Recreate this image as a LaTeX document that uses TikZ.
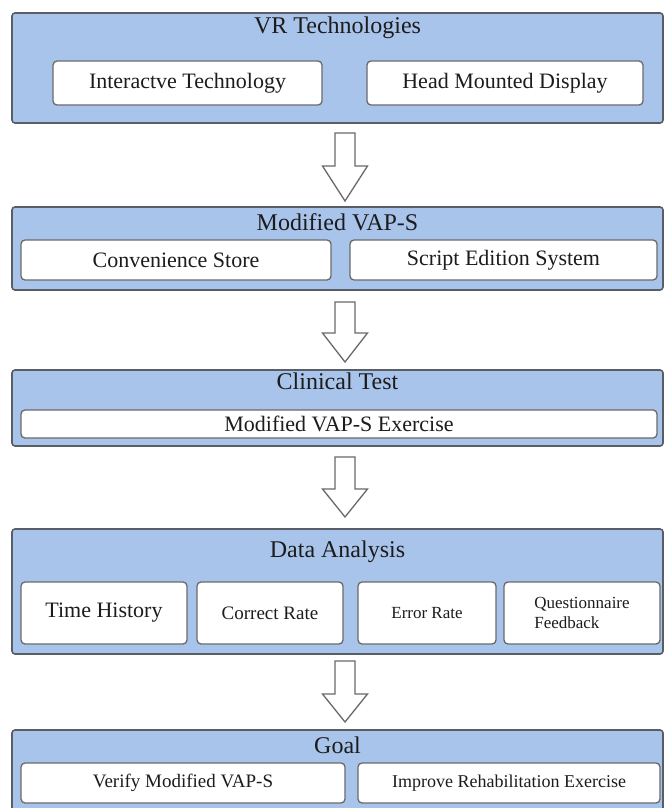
\documentclass[tikz,border=0pt]{standalone}
\usepackage{fontspec}
\setmainfont{Liberation Serif}
\definecolor{outerblue}{RGB}{169,196,235}
\definecolor{edgegray}{RGB}{88,94,100}
\definecolor{innergray}{RGB}{105,105,105}
\definecolor{txt}{RGB}{28,28,28}
\tikzset{
  outerbox/.style={draw=edgegray, fill=outerblue, line width=1.6pt, rounded corners=3pt, inner sep=0pt, outer sep=0pt},
  innerbox/.style={draw=innergray, fill=white, line width=1.3pt, rounded corners=4pt, inner sep=0pt, outer sep=0pt, text=txt, font=\fontsize{22}{24}\selectfont},
  titletext/.style={text=txt, font=\fontsize{24}{26}\selectfont, inner sep=0pt},
  blockarrow/.style={draw=innergray, fill=white, line width=1.3pt, line join=miter},
}
\newcommand\pbox[7]{\node[#6, minimum width={(#3-#2)*1pt}, minimum height={(#5-#4)*1pt}] (#1) at ({(#2+#3)/2},{(#4+#5)/2}) {#7};}
\newcommand\downarr[4]{\draw[blockarrow] ({#1-10},#2) -- ({#1+10},#2) -- ({#1+10},#3) -- ({#1+22.5},#3) -- (#1,#4) -- ({#1-22.5},#3) -- ({#1-10},#3) -- cycle;}
\begin{document}
\begin{tikzpicture}[x=1pt,y=-1pt]
\useasboundingbox (0,0) rectangle (667,808);
\clip (0,0) rectangle (667,808);
% Box 1
\pbox{b1}{12}{663}{13}{123}{outerbox}{}
\node[titletext] (t1) at (337.5,28) {VR Technologies};
\pbox{i11}{53}{322}{61}{105}{innerbox}{Interactve Technology}
\pbox{i12}{367}{643}{61}{105}{innerbox}{Head Mounted Display}
\downarr{345}{133}{166}{201}
% Box 2
\pbox{b2}{12}{663}{207}{290}{outerbox}{}
\node[titletext] (t2) at (337.5,222) {Modified VAP-S};
\pbox{i21}{21}{331}{240}{280}{innerbox}{Convenience Store}
\pbox{i22}{350}{657}{240}{280}{innerbox}{Script Edition System}
\downarr{345}{302}{333}{362}
% Box 3
\pbox{b3}{12}{663}{370}{446}{outerbox}{}
\node[titletext] (t3) at (337.5,381) {Clinical Test};
\pbox{i31}{21}{657}{410}{438}{innerbox}{Modified VAP-S Exercise}
\downarr{345}{457}{489}{517}
% Box 4
\pbox{b4}{12}{663}{529}{654}{outerbox}{}
\node[titletext] (t4) at (337.5,552) {Data Analysis};
\pbox{i41}{21}{187}{582}{644}{innerbox}{Time History}
\pbox{i42}{197}{343}{582}{644}{innerbox,font=\fontsize{19}{21}\selectfont}{Correct Rate}
\pbox{i43}{358}{496}{582}{644}{innerbox,font=\fontsize{17}{19}\selectfont}{Error Rate}
\pbox{i44}{504}{660}{582}{644}{innerbox,font=\fontsize{17}{20}\selectfont,align=left}{Questionnaire\\Feedback}
\downarr{345}{661}{694}{722}
% Box 5
\pbox{b5}{12}{663}{730}{830}{outerbox}{}
\node[titletext] (t5) at (337.5,745) {Goal};
\pbox{i51}{21}{345}{763}{803}{innerbox,font=\fontsize{19}{21}\selectfont}{Verify Modified VAP-S}
\pbox{i52}{358}{660}{763}{803}{innerbox,font=\fontsize{18}{20}\selectfont}{Improve Rehabilitation Exercise}
\end{tikzpicture}
\end{document}
